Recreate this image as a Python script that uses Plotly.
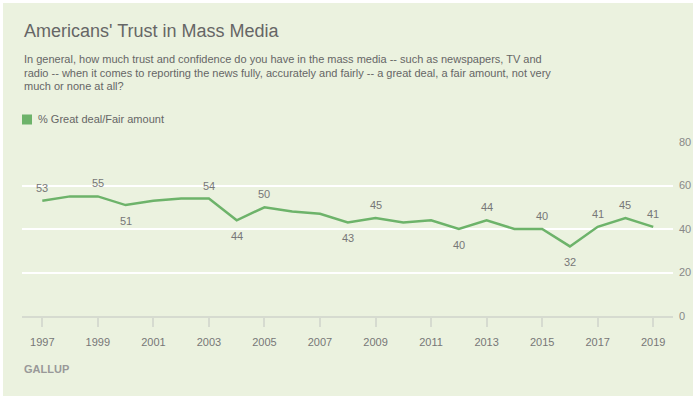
import plotly.graph_objects as go

# ---- data ----
years = list(range(1997, 2020))
trust = [53, 55, 55, 51, 53, 54, 54, 44, 50, 48, 47, 43, 45, 43, 44, 40, 44, 40, 40, 32, 41, 45, 41]
label_years_above = [1997, 1999, 2003, 2005, 2009, 2013, 2015, 2017, 2018, 2019]
label_years_below = [2000, 2004, 2008, 2012, 2016]
x_tick_years = list(range(1997, 2020, 2))
y_tick_values = [0, 20, 40, 60, 80]

title_text = "Americans' Trust in Mass Media"
subtitle_lines = [
    "In general, how much trust and confidence do you have in the mass media -- such as newspapers, TV and",
    "radio -- when it comes to reporting the news fully, accurately and fairly -- a great deal, a fair amount, not very",
    "much or none at all?",
]
legend_text = "% Great deal/Fair amount"
source_text = "GALLUP"

# ---- style ----
W, H = 693, 399
PL, PR, PT, PB = 22, 673, 142, 316  # plot area in px
BG = "#EBF2DF"
LINE = "#6DB36A"
TXT = "#666666"
FONT = "Liberation Sans, Arial, sans-serif"


def px_x(px):
    return (px - PL) / (PR - PL)


def px_y(py):
    return (PB - py) / (PB - PT)


fig = go.Figure()
fig.add_trace(go.Scatter(x=years, y=trust, mode="lines",
                         line=dict(color=LINE, width=2.5),
                         hoverinfo="x+y", showlegend=False))

annotations = []
val = dict(zip(years, trust))
for yr in label_years_above:
    annotations.append(dict(x=yr, y=val[yr], xref="x", yref="y", text=str(val[yr]),
                            showarrow=False, yanchor="middle", yshift=13,
                            font=dict(size=11, color="#777777", family=FONT)))
for yr in label_years_below:
    annotations.append(dict(x=yr, y=val[yr], xref="x", yref="y", text=str(val[yr]),
                            showarrow=False, yanchor="middle", yshift=-16,
                            font=dict(size=11, color="#777777", family=FONT)))

annotations.append(dict(x=px_x(22), y=px_y(31), xref="paper", yref="paper", text=title_text,
                        showarrow=False, xanchor="left", yanchor="middle",
                        font=dict(size=18, color=TXT, family=FONT)))
for i, line in enumerate(subtitle_lines):
    annotations.append(dict(x=px_x(22), y=px_y(59.3 + 13.3 * i), xref="paper", yref="paper",
                            text=line, showarrow=False, xanchor="left", yanchor="middle",
                            font=dict(size=11, color=TXT, family=FONT)))
annotations.append(dict(x=px_x(36), y=px_y(119.5), xref="paper", yref="paper", text=legend_text,
                        showarrow=False, xanchor="left", yanchor="middle",
                        font=dict(size=11, color=TXT, family=FONT)))
annotations.append(dict(x=px_x(22), y=px_y(369), xref="paper", yref="paper",
                        text="<b>" + source_text + "</b>", showarrow=False,
                        xanchor="left", yanchor="middle",
                        font=dict(size=11, color="#999999", family=FONT)))

shapes = [
    dict(type="rect", xref="paper", yref="paper", layer="below",
         x0=px_x(3), x1=px_x(720), y0=px_y(396), y1=px_y(3),
         fillcolor=BG, line=dict(width=0)),
    dict(type="rect", xref="paper", yref="paper",
         x0=px_x(22), x1=px_x(32), y0=px_y(124.5), y1=px_y(114.5),
         fillcolor=LINE, line=dict(width=0)),
]

fig.update_layout(
    width=W, height=H,
    margin=dict(l=PL, r=W - PR, t=PT, b=H - PB, pad=0, autoexpand=False),
    paper_bgcolor="white", plot_bgcolor=BG,
    showlegend=False,
    annotations=annotations, shapes=shapes,
    xaxis=dict(range=[1996.269, 2019.712], tickvals=x_tick_years,
               ticktext=[str(y) for y in x_tick_years],
               showgrid=False, zeroline=False, automargin=False,
               showline=True, linecolor="#D6DBD0", linewidth=2,
               ticks="outside", ticklen=9, tickwidth=1.5, tickcolor="#D6DBD0",
               ticklabelstandoff=6,
               tickfont=dict(size=11, color="#777777", family=FONT)),
    yaxis=dict(range=[0, 80], tickvals=y_tick_values, side="right",
               showgrid=True, gridcolor="white", gridwidth=2,
               zeroline=False, showline=False, ticks="", automargin=False,
               ticklabelstandoff=5,
               tickfont=dict(size=11, color="#888888", family=FONT)),
)

fig.write_html("out.html", config={"displayModeBar": False},
               post_script="document.body.style.margin='0';document.body.style.padding='0';")
